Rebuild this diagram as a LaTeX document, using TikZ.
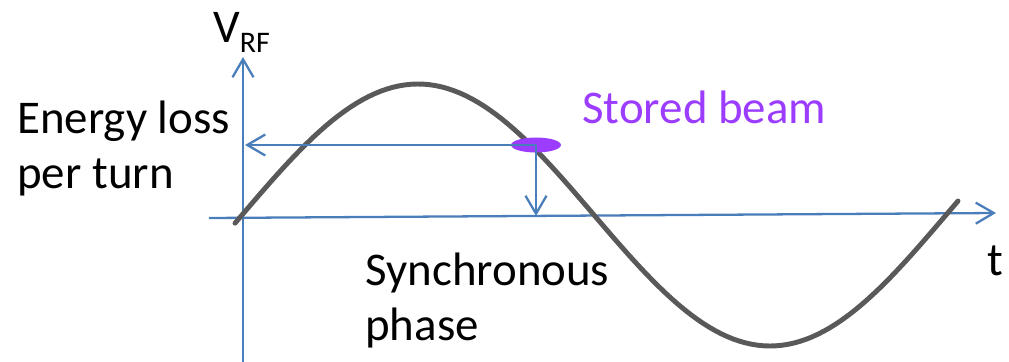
\documentclass[tikz,border=0pt]{standalone}
\usepackage{fontspec}
\setmainfont{Carlito}
\usetikzlibrary{arrows.meta, positioning, shapes.geometric}
\definecolor{axisblue}{RGB}{74,126,187}
\definecolor{beamviolet}{RGB}{155,60,255}
\definecolor{wavegray}{RGB}{89,89,89}

\begin{document}
\begin{tikzpicture}[
    x=0.02cm, y=-0.02cm,
    axis/.style={draw=axisblue, line width=1.3pt},
    arrow/.style={axis, -{Straight Barb[length=0.36cm, width=0.42cm, line width=1.3pt]}},
    label/.style={inner sep=0pt, anchor=base west, align=left, font=\fontsize{26.7}{31.3}\selectfont},
    wave/.style={draw=wavegray, line width=2.8pt, line cap=round}
]
    \useasboundingbox (0,0) rectangle (1009,362);

    % axes
    \coordinate (vbottom) at (243,362);
    \coordinate (vtop) at (243,57);
    \coordinate (hleft) at (209,218);
    \coordinate (hright) at (996,213);
    \draw[arrow] (vbottom) -- (vtop);
    \draw[arrow] (hleft) -- (hright);

    % RF voltage
    \draw[wave] plot[domain=235:958, samples=120] (\x, {215-131*sin(0.51136*(\x-242))});

    % stored beam
    \node[ellipse, fill=beamviolet, inner sep=0pt, minimum width=1.0cm, minimum height=0.3cm] (beam) at (536,145) {};
    \coordinate (lossend) at (245,145);
    \coordinate (phaseend) at (536,216);
    \draw[arrow] (beam.center) -- (lossend);
    \draw[arrow] (beam.center) -- (phaseend);

    % labels (base = last line)
    \node[label] (vrf) at (213,42) {V\raisebox{-0.22cm}{\fontsize{17}{19}\selectfont RF}};
    \node[label] (loss) at (17,188) {Energy loss\\per turn};
    \node[label, text=beamviolet] (stored) at (582,123) {Stored beam};
    \node[label] (sync) at (365,340) {Synchronous\\phase};
    \node[label] (time) at (987,275) {t};
\end{tikzpicture}
\end{document}
